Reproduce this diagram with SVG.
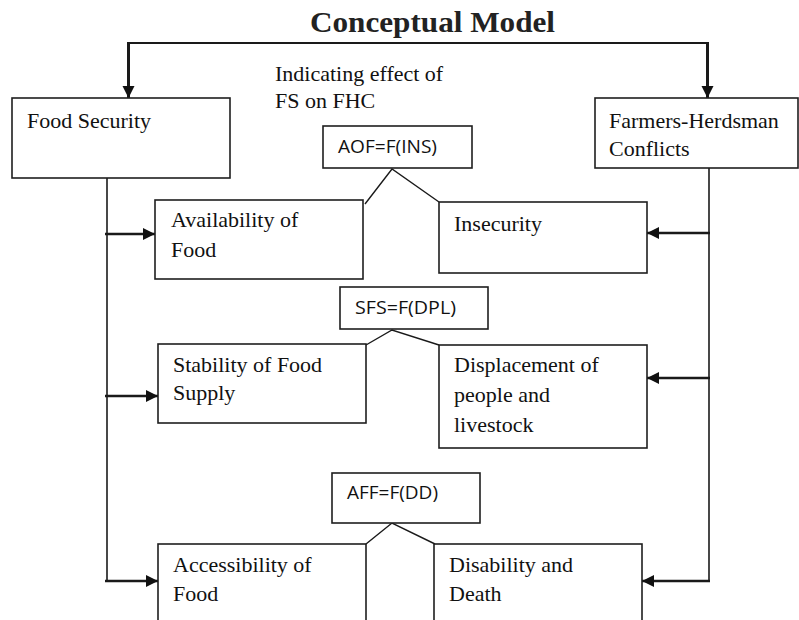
<svg xmlns="http://www.w3.org/2000/svg" width="799" height="620" viewBox="0 0 799 620">
<defs>
<style>
.box{fill:#fff;stroke:#1e1e1e;stroke-width:1.6}
.t{font-family:"Liberation Serif","Times New Roman",serif;font-size:22px;fill:#111}
.f{font-family:"Open Sans","Liberation Sans",sans-serif;font-size:18px;fill:#111}
.title{font-family:"Liberation Serif","Times New Roman",serif;font-size:29px;font-weight:bold;fill:#222}
.c{fill:none;stroke:#1a1a1a}
</style>
<marker id="ah" markerUnits="userSpaceOnUse" markerWidth="13" markerHeight="13" refX="12" refY="6" orient="auto">
<path d="M0,0 L12,6 L0,12 z" fill="#111"/>
</marker>
</defs>
<rect width="799" height="620" fill="#fff"/>
<text class="title" x="310" y="32" textLength="245" lengthAdjust="spacingAndGlyphs">Conceptual Model</text>
<g id="connectors">
<path class="c" d="M128.5,43 H707.5" stroke-width="2"/>
<path class="c" d="M128.5,42 V98" stroke-width="3" marker-end="url(#ah)"/>
<path class="c" d="M707.5,42 V98" stroke-width="3" marker-end="url(#ah)"/>
<path class="c" d="M107,178 V582" stroke-width="1.6"/>
<path class="c" d="M709,168 V582" stroke-width="1.6"/>
<path class="c" d="M105,234 H155" stroke-width="2.5" marker-end="url(#ah)"/>
<path class="c" d="M105,396 H158" stroke-width="2.5" marker-end="url(#ah)"/>
<path class="c" d="M105,581 H158" stroke-width="2.5" marker-end="url(#ah)"/>
<path class="c" d="M710,233 H647" stroke-width="2.5" marker-end="url(#ah)"/>
<path class="c" d="M710,378 H647" stroke-width="2.5" marker-end="url(#ah)"/>
<path class="c" d="M710,581 H642" stroke-width="2.5" marker-end="url(#ah)"/>
<path class="c" d="M365,204 L392,169 L439,202" stroke-width="1.4"/>
<path class="c" d="M366,345 L392,330 L439,345" stroke-width="1.4"/>
<path class="c" d="M366,544 L392,523 L435,544" stroke-width="1.4"/>
</g>
<g id="food-security">
<rect class="box" x="12" y="98" width="218" height="80"/>
<text class="t" x="27" y="128">Food Security</text>
</g>
<g id="farmers-herdsman">
<rect class="box" x="595" y="98" width="203" height="70"/>
<text class="t" x="609" y="128">Farmers-Herdsman</text>
<text class="t" x="609" y="156">Conflicts</text>
</g>
<g id="note">
<text class="t" x="275" y="81">Indicating effect of</text>
<text class="t" x="275" y="108">FS on FHC</text>
</g>
<g id="aof">
<rect class="box" x="323" y="126" width="149" height="42"/>
<text class="f" x="338" y="153" textLength="99" lengthAdjust="spacingAndGlyphs">AOF=F(INS)</text>
</g>
<g id="availability">
<rect class="box" x="155" y="200" width="208" height="79"/>
<text class="t" x="171" y="227">Availability of</text>
<text class="t" x="171" y="257">Food</text>
</g>
<g id="insecurity">
<rect class="box" x="439" y="202" width="208" height="71"/>
<text class="t" x="454" y="231">Insecurity</text>
</g>
<g id="sfs">
<rect class="box" x="340" y="287" width="148" height="42"/>
<text class="f" x="355" y="314" textLength="101" lengthAdjust="spacingAndGlyphs">SFS=F(DPL)</text>
</g>
<g id="stability">
<rect class="box" x="158" y="344" width="208" height="79"/>
<text class="t" x="173" y="372">Stability of Food</text>
<text class="t" x="173" y="400">Supply</text>
</g>
<g id="displacement">
<rect class="box" x="439" y="345" width="208" height="103"/>
<text class="t" x="454" y="372">Displacement of</text>
<text class="t" x="454" y="402">people and</text>
<text class="t" x="454" y="432">livestock</text>
</g>
<g id="aff">
<rect class="box" x="332" y="473" width="148" height="50"/>
<text class="f" x="347" y="499" textLength="91" lengthAdjust="spacingAndGlyphs">AFF=F(DD)</text>
</g>
<g id="accessibility">
<rect class="box" x="158" y="544" width="208" height="90"/>
<text class="t" x="173" y="572">Accessibility of</text>
<text class="t" x="173" y="601">Food</text>
</g>
<g id="disability">
<rect class="box" x="434" y="544" width="208" height="90"/>
<text class="t" x="449" y="572">Disability and</text>
<text class="t" x="449" y="601">Death</text>
</g>
</svg>
